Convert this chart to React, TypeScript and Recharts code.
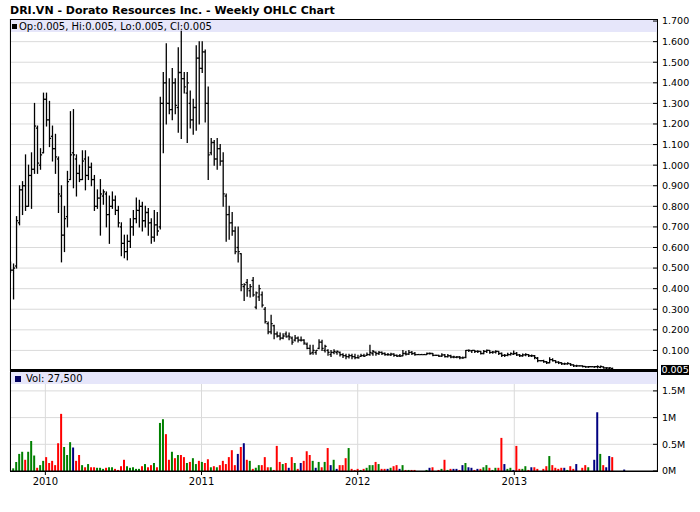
import { Bar, BarChart, CartesianGrid, Cell, ComposedChart, ReferenceArea, ReferenceLine, XAxis, YAxis } from "recharts"

// weekly bars, first week starts Monday 12 Oct 2009
const firstWeek = Date.UTC(2009, 9, 12)
const yearLabels = ["2010", "2011", "2012", "2013"]
const priceTicks = [0.1, 0.2, 0.3, 0.4, 0.5, 0.6, 0.7, 0.8, 0.9, 1.0, 1.1, 1.2, 1.3, 1.4, 1.5, 1.6, 1.7]
const volTicks = [0, 0.5, 1, 1.5]

const opens = [
  0.5, 0.49, 0.51, 0.72, 0.88, 0.9, 0.8, 0.95, 0.98, 1.18,
  1.0, 1.06, 1.32, 1.22, 1.14, 1.08, 1.03, 0.85, 0.66, 0.75,
  0.93, 1.06, 1.03, 0.96, 0.93, 1.03, 0.95, 0.99, 0.93, 0.8,
  0.84, 0.85, 0.86, 0.76, 0.8, 0.83, 0.78, 0.7, 0.62, 0.58,
  0.63, 0.7, 0.74, 0.78, 0.8, 0.73, 0.77, 0.72, 0.65, 0.71,
  0.7, 1.3, 1.4, 1.3, 1.27, 1.4, 1.28, 1.45, 1.42, 1.35,
  1.3, 1.22, 1.28, 1.52, 1.47, 1.55, 1.3, 1.06, 1.11, 1.03,
  1.08, 1.02, 0.85, 0.76, 0.72, 0.68, 0.6, 0.57, 0.41, 0.43,
  0.39, 0.44, 0.31, 0.36, 0.37, 0.3, 0.23, 0.19, 0.22, 0.18,
  0.17, 0.16, 0.18, 0.17, 0.16, 0.15, 0.16, 0.15, 0.15, 0.13,
  0.11, 0.09, 0.09, 0.11, 0.14, 0.1, 0.1, 0.08, 0.09, 0.09,
  0.09, 0.08, 0.075, 0.07, 0.075, 0.07, 0.065, 0.071, 0.075, 0.076,
  0.08, 0.085, 0.09, 0.085, 0.09, 0.085, 0.08, 0.078, 0.082, 0.076,
  0.074, 0.074, 0.085, 0.082, 0.09, 0.085, 0.08, 0.08, 0.08, 0.08,
  0.085, 0.085, 0.076, 0.076, 0.072, 0.078, 0.07, 0.074, 0.068, 0.066,
  0.068, 0.064, 0.066, 0.1, 0.098, 0.1, 0.095, 0.095, 0.085, 0.095,
  0.1, 0.09, 0.092, 0.095, 0.085, 0.076, 0.076, 0.08, 0.082, 0.085,
  0.078, 0.074, 0.078, 0.08, 0.074, 0.074, 0.062, 0.05, 0.05, 0.045,
  0.04, 0.055, 0.05, 0.043, 0.04, 0.035, 0.035, 0.035, 0.03, 0.025,
  0.025, 0.025, 0.022, 0.02, 0.021, 0.02, 0.021, 0.018, 0.02, 0.015,
  0.014, 0.012, 0.005, 0.005, 0.005, 0.005,
]

const highs = [
  0.53, 0.52, 0.75, 0.9, 0.92, 1.05, 1.0, 1.06, 1.3, 1.19,
  1.08, 1.35, 1.35, 1.31, 1.19, 1.15, 1.04, 0.9, 0.8, 0.97,
  1.26, 1.27, 1.05, 1.0, 1.07, 1.07, 1.04, 1.01, 0.95, 0.88,
  0.93, 0.88, 0.87, 0.85, 0.87, 0.85, 0.8, 0.72, 0.66, 0.66,
  0.74, 0.78, 0.84, 0.83, 0.82, 0.8, 0.79, 0.74, 0.78, 0.77,
  1.33, 1.45, 1.59, 1.42, 1.47, 1.42, 1.57, 1.65, 1.45, 1.45,
  1.36, 1.32, 1.58, 1.6, 1.6, 1.56, 1.38, 1.13, 1.12, 1.13,
  1.1, 1.06, 0.86, 0.8, 0.77, 0.7, 0.7, 0.57, 0.424, 0.444,
  0.42, 0.454, 0.384, 0.416, 0.384, 0.308, 0.238, 0.271, 0.222, 0.19,
  0.185, 0.181, 0.19, 0.185, 0.165, 0.173, 0.165, 0.165, 0.152, 0.136,
  0.125, 0.125, 0.1, 0.152, 0.149, 0.125, 0.103, 0.1, 0.103, 0.097,
  0.092, 0.084, 0.081, 0.081, 0.081, 0.081, 0.076, 0.081, 0.081, 0.087,
  0.125, 0.1, 0.092, 0.095, 0.092, 0.088, 0.085, 0.086, 0.084, 0.078,
  0.08, 0.1, 0.095, 0.1, 0.095, 0.09, 0.08, 0.08, 0.08, 0.088,
  0.088, 0.085, 0.076, 0.076, 0.084, 0.08, 0.08, 0.076, 0.072, 0.07,
  0.07, 0.068, 0.1, 0.102, 0.1, 0.1, 0.098, 0.095, 0.1, 0.102,
  0.1, 0.095, 0.098, 0.095, 0.088, 0.08, 0.086, 0.088, 0.097, 0.09,
  0.08, 0.082, 0.084, 0.08, 0.078, 0.075, 0.065, 0.05, 0.052, 0.046,
  0.064, 0.06, 0.05, 0.045, 0.04, 0.038, 0.04, 0.036, 0.03, 0.028,
  0.025, 0.025, 0.022, 0.022, 0.021, 0.022, 0.025, 0.024, 0.02, 0.016,
  0.016, 0.014, 0.005, 0.005, 0.005, 0.005,
]

const lows = [
  0.48, 0.35, 0.5, 0.71, 0.76, 0.78, 0.8, 0.79, 0.96, 0.96,
  0.98, 1.06, 1.19, 1.09, 1.02, 0.96, 0.77, 0.53, 0.58, 0.7,
  0.93, 0.89, 0.85, 0.92, 0.93, 0.88, 0.93, 0.9, 0.78, 0.79,
  0.66, 0.81, 0.7, 0.62, 0.79, 0.76, 0.7, 0.56, 0.55, 0.54,
  0.6, 0.66, 0.72, 0.7, 0.68, 0.7, 0.66, 0.62, 0.63, 0.66,
  0.69, 1.06, 1.2, 1.25, 1.22, 1.25, 1.16, 1.13, 1.35, 1.11,
  1.18, 1.15, 1.17, 1.2, 1.45, 1.21, 0.93, 1.05, 1.0, 0.98,
  1.0, 0.8, 0.63, 0.64, 0.66, 0.57, 0.53, 0.39, 0.343, 0.363,
  0.36, 0.363, 0.303, 0.343, 0.311, 0.233, 0.181, 0.181, 0.157, 0.165,
  0.152, 0.157, 0.165, 0.152, 0.13, 0.146, 0.141, 0.146, 0.13, 0.108,
  0.081, 0.081, 0.081, 0.108, 0.1, 0.092, 0.076, 0.071, 0.084, 0.081,
  0.073, 0.065, 0.06, 0.063, 0.06, 0.06, 0.063, 0.071, 0.071, 0.076,
  0.076, 0.076, 0.076, 0.08, 0.08, 0.076, 0.076, 0.075, 0.072, 0.07,
  0.07, 0.074, 0.078, 0.08, 0.08, 0.076, 0.08, 0.08, 0.08, 0.08,
  0.082, 0.074, 0.076, 0.07, 0.07, 0.068, 0.068, 0.064, 0.064, 0.064,
  0.06, 0.062, 0.064, 0.095, 0.09, 0.09, 0.09, 0.082, 0.084, 0.09,
  0.086, 0.086, 0.088, 0.08, 0.07, 0.07, 0.074, 0.078, 0.08, 0.075,
  0.07, 0.072, 0.074, 0.07, 0.07, 0.06, 0.045, 0.05, 0.042, 0.036,
  0.04, 0.048, 0.04, 0.036, 0.032, 0.032, 0.033, 0.027, 0.022, 0.022,
  0.025, 0.02, 0.018, 0.018, 0.021, 0.018, 0.015, 0.016, 0.014, 0.012,
  0.01, 0.005, 0.005, 0.005, 0.005, 0.005,
]

const closes = [
  0.49, 0.5, 0.73, 0.88, 0.9, 0.8, 0.95, 0.98, 1.19, 1.01,
  1.05, 1.32, 1.22, 1.13, 1.08, 1.04, 0.86, 0.66, 0.74, 0.92,
  1.05, 1.05, 0.96, 0.93, 1.02, 0.95, 0.99, 0.93, 0.8, 0.84,
  0.86, 0.87, 0.76, 0.8, 0.83, 0.78, 0.72, 0.62, 0.58, 0.63,
  0.7, 0.74, 0.78, 0.8, 0.73, 0.77, 0.72, 0.65, 0.71, 0.68,
  1.3, 1.4, 1.3, 1.27, 1.4, 1.29, 1.45, 1.42, 1.38, 1.4,
  1.22, 1.28, 1.52, 1.47, 1.55, 1.3, 1.05, 1.11, 1.03, 1.08,
  1.02, 0.86, 0.76, 0.72, 0.68, 0.58, 0.58, 0.42, 0.42, 0.4,
  0.41, 0.37, 0.38, 0.4, 0.32, 0.24, 0.19, 0.23, 0.18, 0.17,
  0.16, 0.17, 0.166, 0.166, 0.14, 0.16, 0.15, 0.15, 0.135, 0.11,
  0.085, 0.1, 0.1, 0.14, 0.11, 0.12, 0.09, 0.09, 0.095, 0.095,
  0.08, 0.075, 0.07, 0.075, 0.07, 0.065, 0.064, 0.075, 0.072, 0.08,
  0.09, 0.095, 0.085, 0.09, 0.085, 0.08, 0.08, 0.082, 0.076, 0.072,
  0.072, 0.085, 0.082, 0.09, 0.085, 0.08, 0.08, 0.08, 0.08, 0.085,
  0.085, 0.076, 0.076, 0.072, 0.078, 0.07, 0.074, 0.068, 0.068, 0.068,
  0.064, 0.064, 0.1, 0.1, 0.1, 0.095, 0.095, 0.085, 0.095, 0.1,
  0.09, 0.092, 0.095, 0.085, 0.076, 0.076, 0.08, 0.085, 0.085, 0.078,
  0.074, 0.078, 0.08, 0.074, 0.074, 0.065, 0.05, 0.05, 0.045, 0.04,
  0.055, 0.05, 0.043, 0.04, 0.035, 0.035, 0.037, 0.03, 0.025, 0.025,
  0.025, 0.022, 0.02, 0.021, 0.021, 0.021, 0.021, 0.022, 0.015, 0.015,
  0.015, 0.005, 0.005, 0.005, 0.005, 0.005,
]

// weekly volume, millions of shares
const volumes = [
  0, 0.05, 0.17, 0.32, 0.36, 0.21, 0.36, 0.56, 0.29, 0.06,
  0.11, 0.19, 0.26, 0.15, 0.19, 0.11, 0.52, 1.07, 0.45, 0.3,
  0.54, 0.44, 0.19, 0.3, 0.11, 0.07, 0.13, 0.07, 0.07, 0.06,
  0.06, 0.04, 0.06, 0.07, 0.07, 0.04, 0.02, 0.09, 0.21, 0.09,
  0.06, 0.07, 0.04, 0.04, 0.09, 0.13, 0.07, 0.11, 0.15, 0.07,
  0.9, 0.97, 0.69, 0.21, 0.36, 0.24, 0.3, 0.3, 0.26, 0.15,
  0.17, 0.24, 0.13, 0.19, 0.17, 0.15, 0.22, 0.07, 0.09, 0.07,
  0.11, 0.19, 0.13, 0.26, 0.39, 0.11, 0.32, 0.45, 0.52, 0.21,
  0.19, 0.04, 0.06, 0.11, 0.11, 0.26, 0.07, 0.07, 0.02, 0.47,
  0.17, 0.13, 0.15, 0.06, 0.26, 0.15, 0.04, 0.15, 0.19, 0.37,
  0.3, 0.19, 0.06, 0.17, 0.07, 0.17, 0.43, 0.11, 0.21, 0.04,
  0.11, 0.11, 0.24, 0.43, 0.04, 0.02, 0.04, 0.02, 0.04, 0.06,
  0.11, 0.11, 0.17, 0.13, 0.04, 0.04, 0.04, 0.06, 0.09, 0.11,
  0.04, 0.11, 0.02, 0.02, 0.02, 0.02, 0, 0, 0, 0.02,
  0.06, 0.07, 0, 0.02, 0.04, 0.21, 0.02, 0.04, 0.04, 0.04,
  0.02, 0.11, 0.15, 0.07, 0.06, 0.02, 0.04, 0.04, 0.07, 0.11,
  0.06, 0.02, 0.06, 0.06, 0.62, 0.13, 0.04, 0.06, 0.02, 0.47,
  0.04, 0.04, 0.09, 0.02, 0.07, 0.07, 0.04, 0, 0.04, 0.09,
  0.28, 0.11, 0.06, 0.04, 0.06, 0.06, 0.02, 0.09, 0.04, 0.13,
  0, 0.06, 0.11, 0.07, 0, 0.21, 1.1, 0.32, 0.11, 0.07,
  0.28, 0.26, 0, 0, 0, 0.0275,
]

const weekMs = 7 * 24 * 3600 * 1000
const yearTicks = yearLabels.map((y) => (Date.UTC(Number(y), 0, 1) - firstWeek) / weekMs)
const xDomain = [-0.234, 215.79]

const rows = closes.map((c, i) => ({
  i,
  open: opens[i],
  high: highs[i],
  low: lows[i],
  close: c,
  vol: volumes[i],
  dir: i === 0 ? 1 : Math.sign(c - closes[i - 1]),
}))
const last = rows[rows.length - 1]

const font = '"DejaVu Sans", Verdana, sans-serif'

function OhlcShape(props: any) {
  const { x, y, width, height, payload } = props
  if (x == null || y == null) return null
  const cx = x + width / 2
  const top = Math.min(y, y + height)
  const h = Math.abs(height)
  const span = payload.high - payload.low
  const yOf = (v: number) => (span > 0 ? top + ((payload.high - v) / span) * h : top)
  return (
    <g stroke="#000" strokeWidth={1.3}>
      <line x1={cx} x2={cx} y1={top - 0.5} y2={top + h + 0.5} />
      <line x1={cx - 1.6} x2={cx} y1={yOf(payload.open)} y2={yOf(payload.open)} />
      <line x1={cx} x2={cx + 1.6} y1={yOf(payload.close)} y2={yOf(payload.close)} />
    </g>
  )
}

function RightTick(props: any) {
  const { x, y, payload, fmt } = props
  return (
    <g>
      <line x1={x - 4} y1={y} x2={x} y2={y} stroke="#000" />
      <text x={x + 5} y={y} dy="0.36em" fontSize={9.5} fill="#000">
        {fmt(payload.value)}
      </text>
    </g>
  )
}

function LastPriceLabel(props: any) {
  const { viewBox } = props
  const x = viewBox.x + viewBox.width
  const y = viewBox.y
  return (
    <g>
      <rect x={x + 4} y={y - 5} width={28} height={10} fill="#000" />
      <text x={x + 4.5} y={y} dy="0.36em" fontSize={9.5} fill="#fff">
        {last.close.toFixed(3)}
      </text>
    </g>
  )
}

const volColor = (d: number) => (d > 0 ? "#008000" : d < 0 ? "#ff0000" : "#000080")

export default function App() {
  return (
    <div style={{ position: "absolute", left: 0, top: 0, width: 700, height: 512, background: "#fff", fontFamily: font }}>
      <div style={{ position: "absolute", left: 10, top: 5, fontSize: 11, lineHeight: "12px", fontWeight: "bold", whiteSpace: "nowrap" }}>
        DRI.VN - Dorato Resources Inc. - Weekly OHLC Chart
      </div>

      <div style={{ position: "absolute", left: 0, top: 372 }}>
        <BarChart width={700} height={140} data={rows} margin={{ top: 0, right: 0, bottom: 0, left: 10 }}>
          <CartesianGrid stroke="#dadada" horizontalValues={[0.5, 1, 1.5]} />
          <ReferenceArea y1={1.63} y2={1.854} fill="#e6e6fa" fillOpacity={1} stroke="none" />
          <XAxis
            dataKey="i"
            type="number"
            domain={xDomain}
            ticks={yearTicks}
            allowDataOverflow
            interval={0}
            height={41}
            tickSize={4}
            tickMargin={3}
            axisLine={{ stroke: "#000" }}
            tickLine={{ stroke: "#000" }}
            tick={{ fontSize: 10, fill: "#000" }}
            tickFormatter={(v: number) => yearLabels[yearTicks.indexOf(v)] ?? ""}
          />
          <YAxis
            orientation="right"
            width={43}
            domain={[0, 1.854]}
            ticks={volTicks}
            interval={0}
            allowDataOverflow
            axisLine={false}
            tickLine={false}
            tickSize={0}
            tickMargin={0}
            tick={(p: any) => <RightTick {...p} fmt={(v: number) => `${v}M`} />}
          />
          <Bar dataKey="vol" barSize={2} isAnimationActive={false}>
            {rows.map((r) => (
              <Cell key={r.i} fill={volColor(r.dir)} />
            ))}
          </Bar>
        </BarChart>
      </div>

      <div style={{ position: "absolute", left: 0, top: 0 }}>
        <ComposedChart width={700} height={380} data={rows} margin={{ top: 19, right: 0, bottom: 9, left: 10 }}>
          <CartesianGrid stroke="#dadada" horizontalValues={priceTicks.slice(0, -1)} />
          <ReferenceArea y1={1.647} y2={1.71} fill="#e6e6fa" fillOpacity={1} stroke="none" />
          <XAxis dataKey="i" type="number" domain={xDomain} ticks={yearTicks} allowDataOverflow height={0} tick={false} axisLine={false} tickLine={false} />
          <YAxis
            orientation="right"
            width={43}
            domain={[0, 1.71]}
            ticks={priceTicks}
            interval={0}
            allowDataOverflow
            axisLine={false}
            tickLine={false}
            tickSize={0}
            tickMargin={0}
            tick={(p: any) => <RightTick {...p} fmt={(v: number) => v.toFixed(3)} />}
          />
          <Bar dataKey={(d: any) => [d.low, d.high]} barSize={3} shape={(p: any) => <OhlcShape {...p} />} isAnimationActive={false} />
          <ReferenceLine y={last.close} stroke="#000" strokeWidth={2} label={(p: any) => <LastPriceLabel {...p} />} />
        </ComposedChart>
      </div>

      {/* panel frames and header texts */}
      <div style={{ position: "absolute", left: 10, top: 19, width: 648, height: 353, border: "1px solid #000", boxSizing: "border-box" }} />
      <div style={{ position: "absolute", left: 10, top: 371, width: 648, height: 101, border: "1px solid #000", boxSizing: "border-box" }} />
      <div style={{ position: "absolute", left: 12, top: 24, width: 5, height: 5, background: "#000" }} />
      <div style={{ position: "absolute", left: 19, top: 21, fontSize: 10, lineHeight: "12px", whiteSpace: "nowrap" }}>
        {`Op:${last.open.toFixed(3)}, Hi:${last.high.toFixed(3)}, Lo:${last.low.toFixed(3)}, Cl:${last.close.toFixed(3)}`}
      </div>
      <div style={{ position: "absolute", left: 15, top: 376, width: 6, height: 6, background: "#000060" }} />
      <div style={{ position: "absolute", left: 26, top: 373, fontSize: 10, lineHeight: "12px", whiteSpace: "nowrap" }}>
        {`Vol: ${Math.round(last.vol * 1e6).toLocaleString("en-US")}`}
      </div>
    </div>
  )
}
